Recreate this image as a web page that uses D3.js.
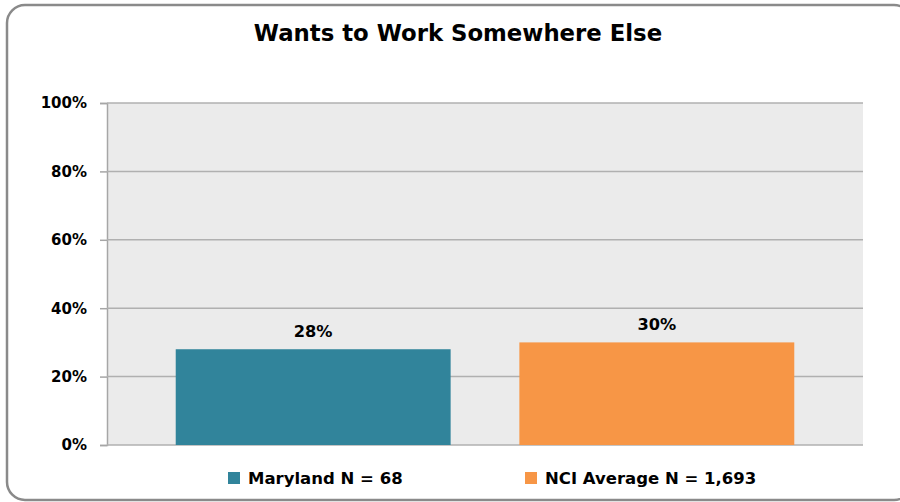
<!DOCTYPE html>
<html><head><meta charset="utf-8">
<script src="https://cdn.jsdelivr.net/npm/d3@7"></script>
<style>body{margin:0;background:#fff;}svg{display:block;font-family:"DejaVu Sans",sans-serif;}</style>
</head><body>
<svg id="c" width="900" height="502"></svg>
<script>
const title = "Wants to Work Somewhere Else";
const series = ["Maryland N = 68", "NCI Average N = 1,693"];
const values = [28, 30];
const colors = ["#31849b", "#f79646"];
const yTicks = [0, 20, 40, 60, 80, 100];

const svg = d3.select("#c");
const m = {l:107, r:863, t:103, b:445};

svg.append("rect").attr("x",7).attr("y",5).attr("width",905).attr("height",495)
  .attr("rx",18).attr("fill","#fff").attr("stroke","#8a8a8a").attr("stroke-width",2.5);

svg.append("text").attr("x",458).attr("y",41).attr("text-anchor","middle")
  .attr("font-size",22.8).attr("font-weight","bold").attr("fill","#000").text(title);

const x = d3.scaleBand().domain(series).range([m.l, m.r]).paddingInner(0.2).paddingOuter(0.2);
const y = d3.scaleLinear().domain([0,100]).range([m.b, m.t]);

svg.append("rect").attr("x",m.l).attr("y",m.t).attr("width",m.r-m.l).attr("height",m.b-m.t).attr("fill","#ebebeb");

const yAxis = d3.axisLeft(y).tickValues(yTicks).tickFormat(d=>d+"%").tickSize(7).tickPadding(13);
const ga = svg.append("g").attr("transform",`translate(${m.l},0)`).call(yAxis);
ga.select(".domain").attr("stroke","#a6a6a6").attr("stroke-width",1.5);
ga.selectAll(".tick line").attr("stroke","#a6a6a6").attr("stroke-width",1.5);
ga.selectAll(".tick text").attr("font-size",15).attr("font-weight","bold").attr("fill","#000")
  .attr("font-family","'DejaVu Sans',sans-serif");

svg.append("g").selectAll("line").data(yTicks).join("line")
  .attr("x1",m.l).attr("x2",m.r).attr("y1",d=>y(d)).attr("y2",d=>y(d))
  .attr("stroke","#b0b0b0").attr("stroke-width",1.5);

svg.append("g").selectAll("rect").data(values).join("rect")
  .attr("x",(d,i)=>x(series[i])).attr("width",x.bandwidth())
  .attr("y",d=>y(d)).attr("height",d=>y(0)-y(d)).attr("fill",(d,i)=>colors[i]);

svg.append("g").selectAll("text").data(values).join("text")
  .attr("x",(d,i)=>x(series[i])+x.bandwidth()/2).attr("y",d=>y(d)-12)
  .attr("text-anchor","middle").attr("font-size",16.2).attr("font-weight","bold").attr("fill","#000")
  .text(d=>d+"%");

const legX = [228, 525];
const lg = svg.append("g").selectAll("g").data(series).join("g")
  .attr("transform",(d,i)=>`translate(${legX[i]},471)`);
lg.append("rect").attr("width",12).attr("height",12).attr("y",1).attr("fill",(d,i)=>colors[i]);
lg.append("text").attr("x",20).attr("y",12.5).attr("font-size",16.5).attr("font-weight","bold").attr("fill","#000").text(d=>d);
</script>
</body></html>
